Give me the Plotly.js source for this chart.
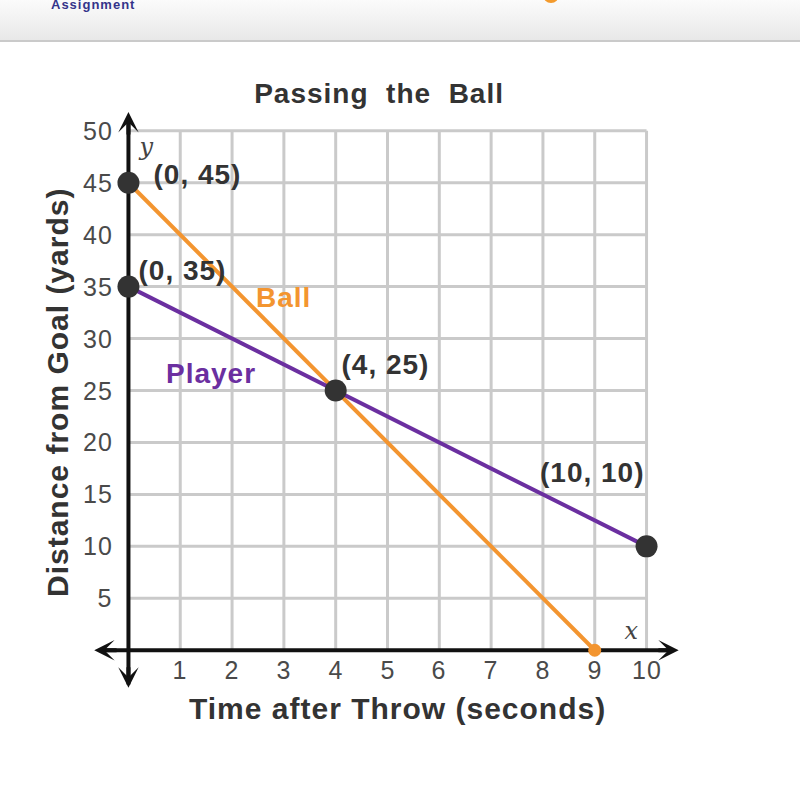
<!DOCTYPE html>
<html>
<head>
<meta charset="utf-8">
<script src="https://cdn.plot.ly/plotly-3.0.1.min.js"></script>
<style>
  html, body { margin:0; padding:0; background:#ffffff; }
  #wrap { position:relative; width:800px; height:801px; overflow:hidden; }
  #hdr { position:absolute; left:0; top:0; width:800px; height:40px;
         background:linear-gradient(#fbfbfb, #e8e8e8); border-bottom:2px solid #cacaca; }
  #dot { position:absolute; left:543px; top:-13px; width:16px; height:16px; border-radius:50%; background:#f39a2c; }
  #chart { position:absolute; left:0; top:0; width:800px; height:801px; }
  #chart svg text { letter-spacing: 1px; }
</style>
</head>
<body>
<div id="wrap">
  <div id="hdr"></div>
  <div id="dot"></div>
  <div id="chart"></div>
</div>
<script>
// ---- data ----
const chartTitle = "Passing the Ball";
const xTitle = "Time after Throw (seconds)";
const yTitle = "Distance from Goal (yards)";
const xTicks = [1, 2, 3, 4, 5, 6, 7, 8, 9, 10];
const yTicks = [5, 10, 15, 20, 25, 30, 35, 40, 45, 50];
const ballX = [0, 9];
const ballY = [45, 0];
const playerX = [0, 10];
const playerY = [35, 10];
const pointX = [0, 0, 4, 10];
const pointY = [45, 35, 25, 10];
const pointLabels = ["(0, 45)", "(0, 35)", "(4, 25)", "(10, 10)"];
const labelX = [1.33, 1.04, 4.97, 8.96];
const labelY = [45.8, 36.6, 27.5, 17.1];
const endX = [9];
const endY = [0];

// ---- styles ----
const ORANGE = "#f39530";
const PURPLE = "#6b2fa0";
const DARK = "#333333";
const GRID = "#cacaca";
const FONT = "Liberation Sans, Arial, sans-serif";

const xMax = xTicks[xTicks.length - 1];
const yMax = yTicks[yTicks.length - 1];

const traces = [
  { x: ballX, y: ballY, mode: "lines", line: { color: ORANGE, width: 4 }, hoverinfo: "skip", cliponaxis: false },
  { x: playerX, y: playerY, mode: "lines", line: { color: PURPLE, width: 4 }, hoverinfo: "skip", cliponaxis: false },
  { x: endX, y: endY, mode: "markers", marker: { color: ORANGE, size: 13 }, hoverinfo: "skip", cliponaxis: false },
  { x: pointX, y: pointY, mode: "markers", marker: { color: DARK, size: 22 }, hoverinfo: "skip", cliponaxis: false }
];

const shapes = [];
xTicks.forEach(v => shapes.push({ type: "line", xref: "x", yref: "y", x0: v, x1: v, y0: 0, y1: yMax,
  line: { color: GRID, width: 3 }, layer: "below" }));
yTicks.forEach(v => shapes.push({ type: "line", xref: "x", yref: "y", x0: 0, x1: xMax, y0: v, y1: v,
  line: { color: GRID, width: 3 }, layer: "below" }));
// axes lines
shapes.push({ type: "line", xref: "x", yref: "y", x0: -0.55, x1: 10.5, y0: 0, y1: 0, line: { color: "#111", width: 4 }, layer: "below" });
shapes.push({ type: "line", xref: "x", yref: "y", x0: 0, x1: 0, y0: -3.3, y1: 51.3, line: { color: "#111", width: 4 }, layer: "below" });

const annotations = [];
// arrowheads
function arrow(x, y, ax, ay) {
  annotations.push({ x: x, y: y, ax: ax, ay: ay, xref: "x", yref: "y", axref: "x", ayref: "y",
    text: "", showarrow: true, arrowhead: 3, arrowsize: 0.85, arrowwidth: 4, arrowcolor: "#111", standoff: 0, startstandoff: 0 });
}
arrow(10.62, 0, 10.2, 0);
arrow(-0.66, 0, -0.2, 0);
arrow(0, 51.8, 0, 49.5);
arrow(0, -3.6, 0, -1.5);

yTicks.forEach(v => annotations.push({ x: -0.27, y: v, xref: "x", yref: "y", text: String(v), showarrow: false,
  xanchor: "right", yanchor: "middle", font: { family: FONT, size: 25, color: "#4a4a4a" } }));
xTicks.forEach(v => annotations.push({ x: v, y: -1.9, xref: "x", yref: "y", text: String(v), showarrow: false,
  xanchor: "center", yanchor: "middle", font: { family: FONT, size: 25, color: "#4a4a4a" } }));

pointLabels.forEach((t, i) => annotations.push({ x: labelX[i], y: labelY[i], xref: "x", yref: "y", text: "<b>" + t + "</b>",
  showarrow: false, xanchor: "center", yanchor: "middle", font: { family: FONT, size: 28, color: DARK } }));

annotations.push({ x: 3.0, y: 34.0, xref: "x", yref: "y", text: "<b>Ball</b>", showarrow: false,
  font: { family: FONT, size: 28, color: ORANGE } });
annotations.push({ x: 1.6, y: 26.6, xref: "x", yref: "y", text: "<b>Player</b>", showarrow: false,
  font: { family: FONT, size: 28, color: PURPLE } });
annotations.push({ x: 0.35, y: 48.4, xref: "x", yref: "y", text: "<i>y</i>", showarrow: false,
  font: { family: "DejaVu Serif, Liberation Serif, serif", size: 24, color: "#444" } });
annotations.push({ x: 9.71, y: 1.9, xref: "x", yref: "y", text: "<i>x</i>", showarrow: false,
  font: { family: "DejaVu Serif, Liberation Serif, serif", size: 24, color: "#444" } });

const layout = {
  width: 800, height: 801,
  margin: { l: 87, r: 112, t: 110, b: 104, pad: 0 },
  paper_bgcolor: "rgba(0,0,0,0)", plot_bgcolor: "rgba(0,0,0,0)",
  showlegend: false,
  title: { text: "<b>" + chartTitle.split(" ").join("&nbsp; ") + "</b>", x: 0.486, xref: "paper", y: 1 - 93 / 801, yanchor: "middle", xanchor: "center",
    font: { family: FONT, size: 28, color: DARK } },
  xaxis: { range: [-0.8, 10.8], showgrid: false, zeroline: false, showticklabels: false, showline: false, ticks: "", fixedrange: true,
    title: { text: "" } },
  yaxis: { range: [-4.5, 52], showgrid: false, zeroline: false, showticklabels: false, showline: false, ticks: "", fixedrange: true,
    title: { text: "" } },
  shapes: shapes,
  annotations: annotations.concat([
    { x: (397 - 87) / 601, y: (697 - 708) / 587, xref: "paper", yref: "paper", text: "<b>" + xTitle + "</b>", showarrow: false,
      xanchor: "center", yanchor: "middle", font: { family: FONT, size: 30, color: DARK } },
    { x: (57 - 87) / 601, y: (697 - 393) / 587, xref: "paper", yref: "paper", text: "<b>" + yTitle + "</b>", showarrow: false,
      textangle: -90, xanchor: "center", yanchor: "middle", font: { family: FONT, size: 30, color: DARK } },
    { x: (54 - 87) / 601, y: (697 - 5) / 587, xref: "paper", yref: "paper", text: "<b>Assignment</b>", showarrow: false,
      xanchor: "left", yanchor: "middle", font: { family: FONT, size: 13, color: "#34348a" } }
  ])
};

Plotly.newPlot("chart", traces, layout, { staticPlot: true, displayModeBar: false });
</script>
</body>
</html>
